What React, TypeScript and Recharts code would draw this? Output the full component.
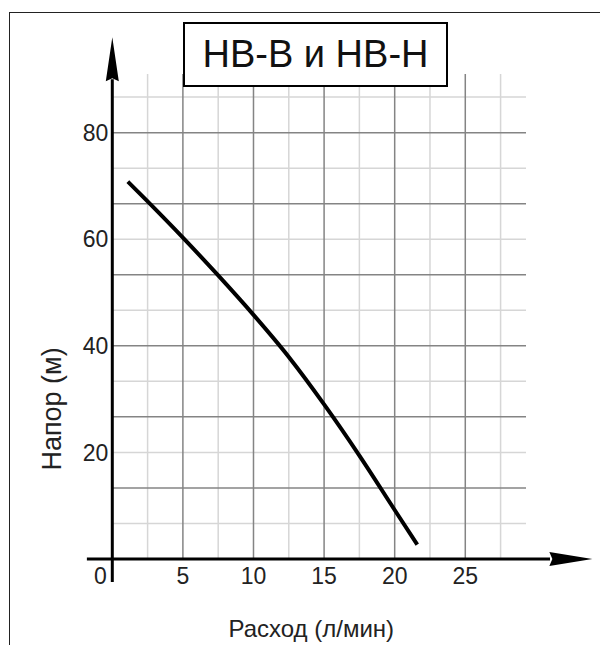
import React from "react";
import { LineChart, Line, XAxis, YAxis, ReferenceLine, ReferenceDot, Label } from "recharts";

// pump curve: flow (l/min) vs head (m)
const flow = [1.1, 2.5, 5, 7.5, 10, 12.5, 15, 17.5, 20, 21.6];
const head = [70.8, 67.1, 60.3, 53.2, 45.8, 37.9, 29.0, 19.4, 9.2, 2.7];

const xTicks = [0, 5, 10, 15, 20, 25];
const yTicks = [20, 40, 60, 80];

// square grid paper under the curve
const gridMajorX = [5, 10, 15, 20, 25];
const gridMinorX = [2.5, 7.5, 12.5, 17.5, 22.5, 27.5];
const gridMajorY = [13.33, 26.67, 40, 53.33, 66.67, 80];
const gridMinorY = [6.67, 20, 33.33, 46.67, 60, 73.33, 86.67];

const data = flow.map((f, i) => ({ flow: f, head: head[i] }));

const FONT = "'Liberation Sans', Arial, sans-serif";

const UpArrow = (p: any) => (
  <polygon points={`${p.cx},${p.cy} ${p.cx - 6.5},${p.cy + 44} ${p.cx},${p.cy + 41} ${p.cx + 6.5},${p.cy + 44}`} fill="#000" />
);

const RightArrow = (p: any) => (
  <polygon points={`${p.cx},${p.cy} ${p.cx - 43},${p.cy - 7} ${p.cx - 40},${p.cy} ${p.cx - 43},${p.cy + 7}`} fill="#000" />
);

const XTick = (p: any) => (
  <text
    x={p.x + (p.payload.value === 0 ? -12 : 0)}
    y={p.y}
    dy="0.71em"
    textAnchor="middle"
    fontFamily={FONT}
    fontSize={23}
    fill="#222"
  >
    {p.payload.value}
  </text>
);

export default function App() {
  return (
    <div style={{ position: "relative", width: 600, height: 637 }}>
      <div
        style={{
          position: "absolute",
          left: 1,
          top: 4,
          width: 599,
          height: 633,
          borderLeft: "1.5px solid #222",
          borderTop: "1.5px solid #222",
          boxSizing: "border-box",
        }}
      />
      <LineChart
        width={600}
        height={637}
        data={data}
        margin={{ top: 66, right: 82, bottom: 56, left: 44.3 }}
        style={{ position: "absolute", left: 0, top: 0 }}
      >
        <XAxis
          type="number"
          dataKey="flow"
          domain={[0, 29.3]}
          ticks={xTicks}
          allowDataOverflow
          height={30}
          axisLine={false}
          tickLine={false}
          tickSize={6}
          tickMargin={3}
          tick={<XTick />}
        >
          <Label
            content={(props: any) => (
              <text
                x={props.viewBox.x + 199}
                y={props.viewBox.y + 78}
                textAnchor="middle"
                fontFamily={FONT}
                fontSize={24}
                fill="#222"
              >
                Расход (л/мин)
              </text>
            )}
          />
        </XAxis>
        <YAxis
          type="number"
          domain={[0, 91]}
          ticks={yTicks}
          allowDataOverflow
          width={60}
          axisLine={false}
          tickLine={false}
          tickSize={4}
          tickMargin={0}
          tick={{ fontFamily: FONT, fontSize: 23, fill: "#222" }}
        >
          <Label
            content={(props: any) => {
              const cx = props.viewBox.x - 1;
              const cy = props.viewBox.y + 335;
              return (
                <text
                  x={cx}
                  y={cy}
                  dy="0.35em"
                  transform={`rotate(-90 ${cx} ${cy})`}
                  textAnchor="middle"
                  fontFamily={FONT}
                  fontSize={27}
                  fill="#222"
                >
                  Напор (м)
                </text>
              );
            }}
          />
        </YAxis>

        {gridMinorX.map((v) => (
          <ReferenceLine key={`mx${v}`} x={v} stroke="#d6d6d6" strokeWidth={1.5} />
        ))}
        {gridMinorY.map((v) => (
          <ReferenceLine key={`my${v}`} y={v} stroke="#d6d6d6" strokeWidth={1.5} />
        ))}
        {gridMajorX.map((v) => (
          <ReferenceLine key={`Mx${v}`} x={v} stroke="#848484" strokeWidth={1.5} />
        ))}
        {gridMajorY.map((v) => (
          <ReferenceLine key={`My${v}`} y={v} stroke="#848484" strokeWidth={1.5} />
        ))}

        <ReferenceLine
          segment={[{ x: -1.8, y: 0 }, { x: 31, y: 0 }]}
          stroke="#000"
          strokeWidth={3}
          ifOverflow="visible"
        />
        <ReferenceLine
          segment={[{ x: 0, y: -4.3 }, { x: 0, y: 90 }]}
          stroke="#000"
          strokeWidth={3}
          ifOverflow="visible"
        />
        <ReferenceDot x={0} y={97.9} ifOverflow="visible" shape={UpArrow} />
        <ReferenceDot x={34} y={0} ifOverflow="visible" shape={RightArrow} />

        <Line
          type="monotone"
          dataKey="head"
          stroke="#000"
          strokeWidth={4}
          dot={false}
          isAnimationActive={false}
        />
      </LineChart>
      <div
        style={{
          position: "absolute",
          left: 175,
          top: 14,
          width: 265,
          height: 65,
          boxSizing: "border-box",
          border: "2px solid #000",
          background: "#fff",
          display: "flex",
          alignItems: "center",
          justifyContent: "center",
          fontFamily: FONT,
          fontSize: 38,
          color: "#111",
        }}
      >
        НВ-В и НВ-Н
      </div>
    </div>
  );
}
